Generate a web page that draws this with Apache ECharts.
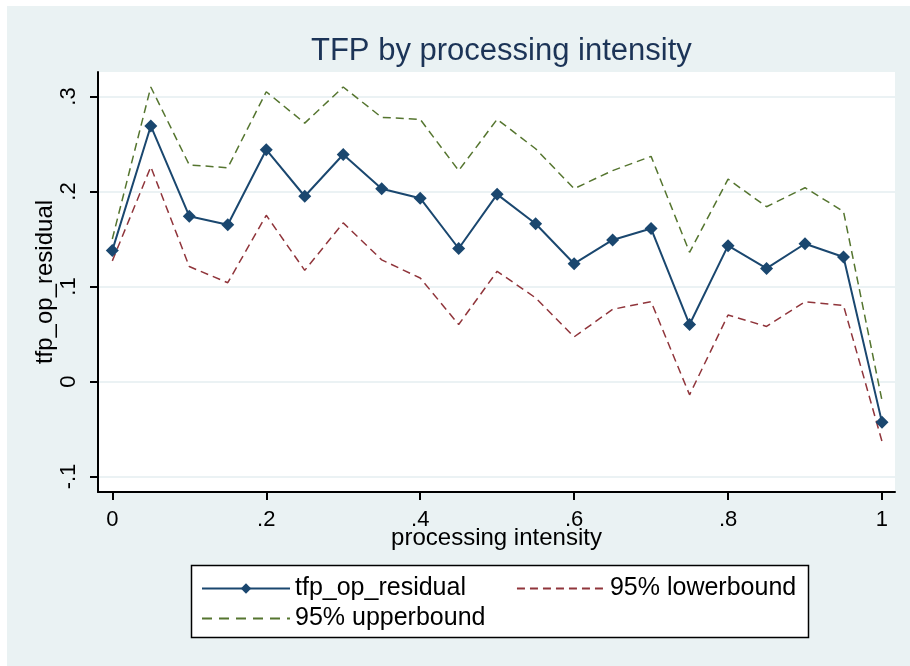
<!DOCTYPE html>
<html><head><meta charset="utf-8">
<script src="https://cdn.jsdelivr.net/npm/echarts@6/dist/echarts.min.js"></script>
<style>html,body{margin:0;padding:0;background:#fff}#c{width:910px;height:666px}</style>
</head><body><div id="c"></div>
<script>
const xValues = [0, 0.05, 0.1, 0.15, 0.2, 0.25, 0.3, 0.35, 0.4, 0.45, 0.5, 0.55, 0.6, 0.65, 0.7, 0.75, 0.8, 0.85, 0.9, 0.95, 1];
const residual = [0.138, 0.269, 0.174, 0.165, 0.244, 0.195, 0.239, 0.203, 0.193, 0.140, 0.197, 0.166, 0.124, 0.149, 0.161, 0.060, 0.143, 0.119, 0.145, 0.131, -0.043];
const lowerBound = [0.127, 0.226, 0.121, 0.104, 0.175, 0.117, 0.167, 0.128, 0.109, 0.060, 0.116, 0.088, 0.047, 0.076, 0.084, -0.014, 0.070, 0.058, 0.084, 0.080, -0.063];
const upperBound = [0.150, 0.310, 0.228, 0.225, 0.305, 0.272, 0.310, 0.278, 0.276, 0.222, 0.276, 0.245, 0.203, 0.222, 0.237, 0.136, 0.213, 0.184, 0.204, 0.179, -0.020];
const xTicks = [0, 0.2, 0.4, 0.6, 0.8, 1];
const yTicks = [-0.1, 0, 0.1, 0.2, 0.3];
const seriesNames = ['tfp_op_residual', '95% lowerbound', '95% upperbound'];

function fmt(v) {
  const r = Math.round(v * 10) / 10;
  if (r === 0) return '0';
  if (Math.abs(r) === 1) return String(r);
  return r.toFixed(1).replace(/^(-?)0\./, '$1.');
}
const pairs = arr => xValues.map((x, i) => [x, arr[i]]);

const chart = echarts.init(document.getElementById('c'), null, {renderer: 'canvas'});
const FONT = '"Liberation Sans", Arial, sans-serif';
const legendText = {fontFamily: FONT, fontSize: 25, color: '#000'};
chart.setOption({
  backgroundColor: '#ffffff',
  animation: false,
  textStyle: {fontFamily: FONT},
  title: {
    text: 'TFP by processing intensity',
    left: 306, top: 31,
    textStyle: {fontFamily: FONT, fontSize: 31, fontWeight: 'normal', color: '#1c3457'}
  },
  graphic: [
    {type: 'rect', z: -100, silent: true, shape: {x: 7, y: 6, width: 903, height: 660}, style: {fill: '#eaf2f3'}},
    {type: 'rect', z: 3, silent: true, shape: {x: 191.5, y: 565.5, width: 617, height: 72}, style: {fill: '#ffffff', stroke: '#000000', lineWidth: 1.5}}
  ],
  grid: {left: 98, right: 15, top: 72, bottom: 174, show: true, backgroundColor: '#ffffff', borderWidth: 0},
  legend: [
    {data: [{name: seriesNames[0]}, {name: seriesNames[1], itemStyle: {opacity: 0}}],
     left: 201, top: 576, itemGap: 50, itemWidth: 88, itemHeight: 13, padding: 0, textStyle: legendText},
    {data: [{name: seriesNames[2], itemStyle: {opacity: 0}}],
     left: 201, top: 606, itemWidth: 88, itemHeight: 13, padding: 0, textStyle: legendText,
     lineStyle: {type: [10, 7]}}
  ],
  xAxis: {
    type: 'value', min: -0.0186, max: 1.0169,
    name: 'processing intensity', nameLocation: 'middle', nameGap: 34, nameMoveOverlap: false,
    nameTextStyle: {fontFamily: FONT, fontSize: 24, color: '#000'},
    axisLine: {show: true, onZero: false, lineStyle: {color: '#000', width: 2}},
    axisTick: {show: true, length: 8, customValues: xTicks, lineStyle: {color: '#000', width: 2}},
    axisLabel: {customValues: xTicks, formatter: fmt, margin: 17, fontFamily: FONT, fontSize: 22, color: '#000'},
    splitLine: {show: false}
  },
  yAxis: {
    type: 'value', min: -0.1163, max: 0.3258,
    name: 'tfp_op_residual', nameLocation: 'middle', nameGap: 41, nameMoveOverlap: false,
    nameTextStyle: {fontFamily: FONT, fontSize: 24, color: '#000'},
    axisLine: {show: true, onZero: false, lineStyle: {color: '#000', width: 2}},
    axisTick: {show: true, length: 8, customValues: yTicks, lineStyle: {color: '#000', width: 2}},
    axisLabel: {customValues: yTicks, formatter: fmt, rotate: 90, margin: 18, fontFamily: FONT, fontSize: 22, color: '#000'},
    splitLine: {show: true, lineStyle: {color: '#e4eef0', width: 1.5}}
  },
  series: [
    {name: seriesNames[0], type: 'line', data: pairs(residual), z: 5,
     symbol: 'diamond', symbolSize: 13, showSymbol: true,
     itemStyle: {color: '#1a476f'}, lineStyle: {color: '#1a476f', width: 2}},
    {name: seriesNames[1], type: 'line', data: pairs(lowerBound), z: 3, symbol: 'none',
     itemStyle: {color: '#90353b'}, lineStyle: {color: '#90353b', width: 1.5, type: [8, 5]}},
    {name: seriesNames[2], type: 'line', data: pairs(upperBound), z: 3, symbol: 'none',
     itemStyle: {color: '#55752f'}, lineStyle: {color: '#55752f', width: 1.5, type: [8, 5]}}
  ]
});
</script></body></html>
